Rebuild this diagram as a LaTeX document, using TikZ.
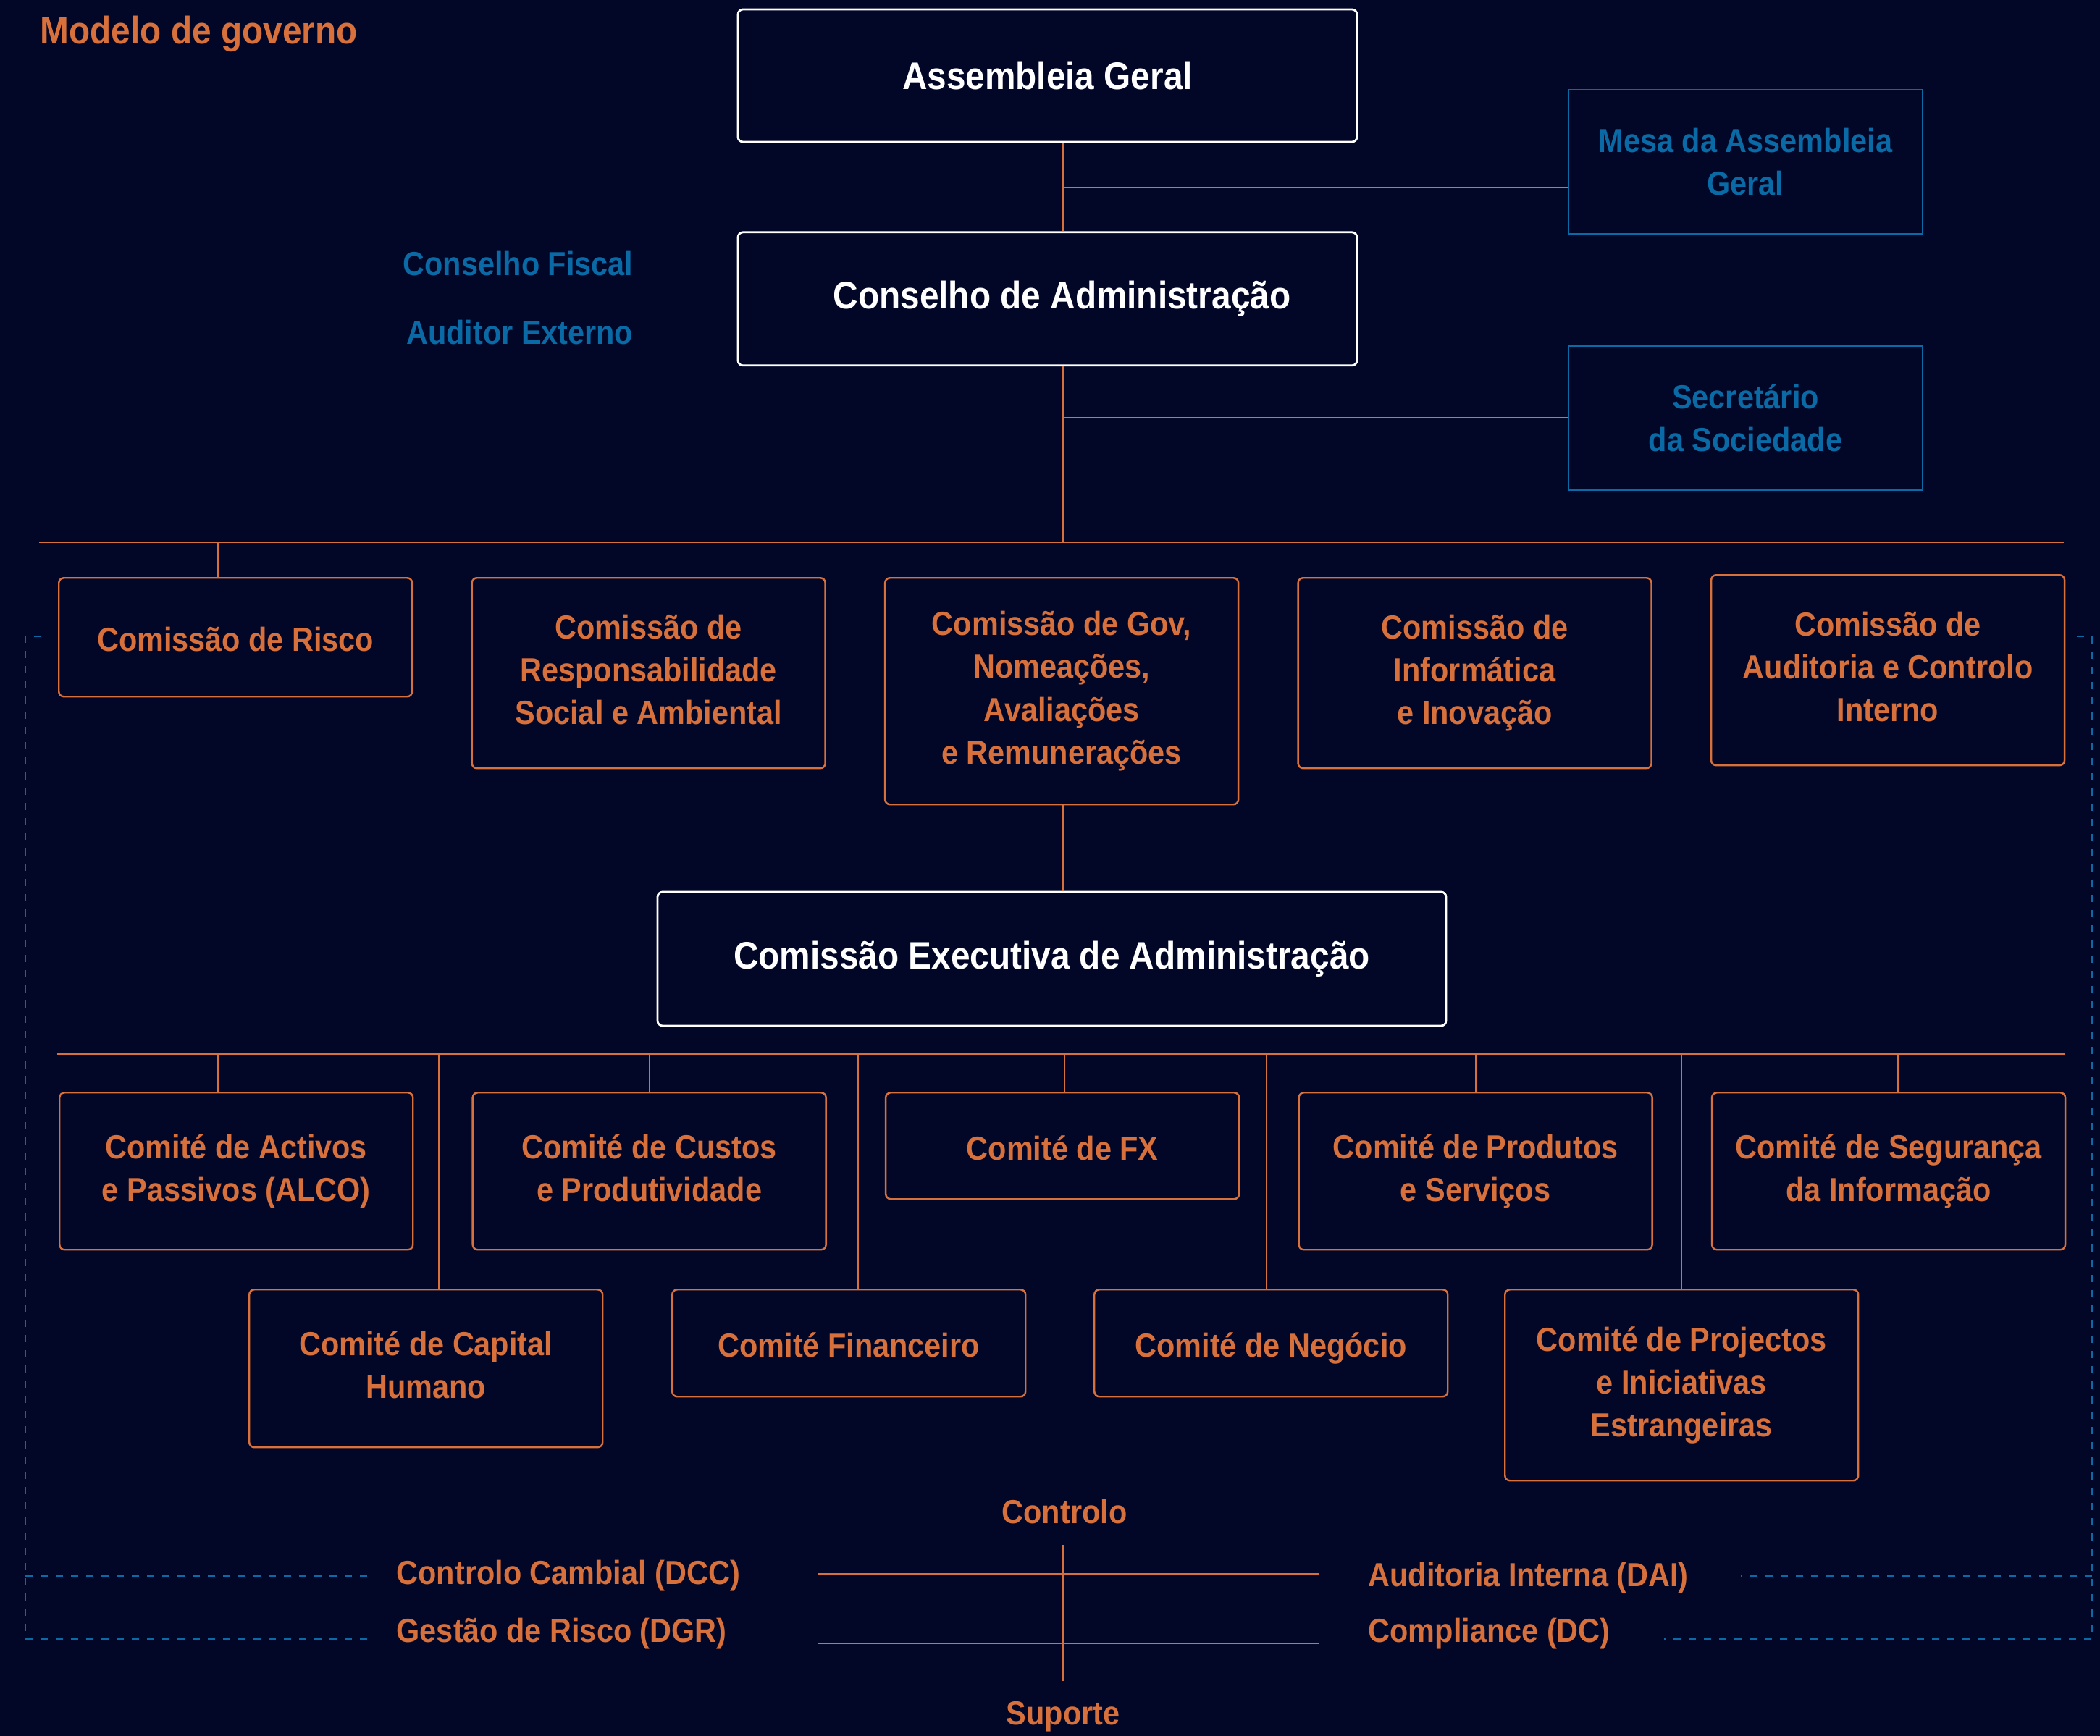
\documentclass[tikz,border=0pt]{standalone}
\usepackage{fontspec}
\setmainfont{Liberation Sans}[FakeStretch=0.9]
\usepackage{xcolor}
\usepackage{tikz}
\usetikzlibrary{positioning, calc}

\definecolor{govnavy}{RGB}{2,7,40}
\definecolor{govorange}{RGB}{216,112,59}
\definecolor{govblue}{RGB}{10,106,165}

\newcommand{\boxfont}{\fontsize{13.1}{16.8}\selectfont\bfseries}
\newcommand{\headfont}{\fontsize{15.1}{18}\selectfont\bfseries}
\newcommand{\boxstrut}{\rule[-2.8pt]{0pt}{16.76pt}}

\begin{document}
\begin{tikzpicture}[
    whitebox/.style={rectangle, draw=white, line width=0.8pt, rounded corners=2pt, text=white, font=\headfont, align=center, inner sep=0pt},
    combox/.style={rectangle, draw=govorange, line width=0.7pt, rounded corners=2pt, text=govorange, font=\boxfont, align=center, minimum width=4.88cm, inner sep=0pt, execute at begin node=\boxstrut, execute at end node=\boxstrut},
    bluebox/.style={rectangle, draw=govblue, line width=0.7pt, text=govblue, font=\boxfont, align=center, minimum width=4.89cm, minimum height=1.99cm, inner sep=0pt},
    orangetext/.style={text=govorange, font=\boxfont, inner sep=0pt},
    bluetext/.style={text=govblue, font=\boxfont, inner sep=0pt},
    link/.style={draw=govorange, line width=0.6pt},
    dashlink/.style={draw=govblue, line width=0.8pt, dash pattern=on 0.1cm off 0.11cm}
]
        % Background and page size
        \fill[govnavy] (0,0) rectangle (29,-23.98);
        \useasboundingbox (0,0) rectangle (29,-23.98);

        \node (title) [anchor=west, text=govorange, font=\headfont, inner sep=0pt] at (0.55,-0.47) {Modelo de governo};

        % Top of the structure
        \node (ag) [whitebox, minimum width=8.55cm, minimum height=1.83cm] at (14.465,-1.045) {Assembleia Geral};
        \node (ca) [whitebox, minimum width=8.55cm, minimum height=1.84cm, below=1.22cm of ag] {\hspace*{0.4cm}Conselho de Administração};
        \node (mesa) [bluebox] at (24.105,-2.235) {Mesa da Assembleia\\Geral};
        \node (sec) [bluebox, below=1.52cm of mesa] {Secretário\\da Sociedade};
        \node (fiscal) [bluetext, anchor=east] at (8.75,-3.64) {Conselho Fiscal};
        \node (auditor) [bluetext, anchor=east] at (8.75,-4.59) {Auditor Externo};

        % Junctions
        \coordinate (spine) at (14.68,0);
        \coordinate (mesajoin) at (14.68,-2.59);
        \coordinate (secjoin) at (14.68,-5.77);
        \coordinate (bus1w) at (0.54,-7.49);
        \coordinate (bus1e) at (28.50,-7.49);
        \coordinate (bus2w) at (0.79,-14.56);
        \coordinate (bus2e) at (28.51,-14.56);

        % Comissoes
        \node (risco) [combox, minimum height=1.64cm, anchor=north west] at (0.80,-7.97) {Comissão de Risco};
        \node (resp) [combox, minimum height=2.63cm, right=0.80cm of risco.north east, anchor=north west] {Comissão de\\Responsabilidade\\Social e Ambiental};
        \node (gov) [combox, minimum height=3.13cm, right=0.80cm of resp.north east, anchor=north west] {Comissão de Gov,\\Nomeações,\\Avaliações\\e Remunerações};
        \node (info) [combox, minimum height=2.63cm, right=0.80cm of gov.north east, anchor=north west] {Comissão de\\Informática\\e Inovação};
        \node (audit) [combox, minimum height=2.63cm, right=0.80cm of info.north east, anchor=north west, yshift=0.04cm] {Comissão de\\Auditoria e Controlo\\Interno};

        \node (cea) [whitebox, minimum width=10.89cm, minimum height=1.85cm] at (14.525,-13.245) {Comissão Executiva de Administração};

        % Comites (first row)
        \node (alco) [combox, minimum height=2.17cm, anchor=north west] at (0.81,-15.08) {Comité de Activos\\e Passivos (ALCO)};
        \node (custos) [combox, minimum height=2.17cm, right=0.80cm of alco.north east, anchor=north west] {Comité de Custos\\e Produtividade};
        \node (fx) [combox, minimum height=1.47cm, right=0.80cm of custos.north east, anchor=north west] {Comité de FX};
        \node (prod) [combox, minimum height=2.17cm, right=0.80cm of fx.north east, anchor=north west] {Comité de Produtos\\e Serviços};
        \node (seg) [combox, minimum height=2.17cm, right=0.80cm of prod.north east, anchor=north west] {Comité de Segurança\\da Informação};

        % Comites (second row)
        \node (capital) [combox, minimum height=2.18cm, anchor=north west] at (3.43,-17.80) {Comité de Capital\\Humano};
        \node (fin) [combox, minimum height=1.48cm, anchor=north west] at (9.27,-17.80) {Comité Financeiro};
        \node (neg) [combox, minimum height=1.48cm, anchor=north west] at (15.10,-17.80) {Comité de Negócio};
        \node (proj) [combox, minimum height=2.64cm, anchor=north west] at (20.77,-17.80) {Comité de Projectos\\e Iniciativas\\Estrangeiras};

        % Control and support functions
        \node (controlo) [orangetext] at (14.70,-20.88) {Controlo};
        \node (suporte) [orangetext] at (14.68,-23.71) {Suporte};
        \node (dcc) [orangetext, anchor=west] at (5.47,-21.77) {Controlo Cambial (DCC)};
        \node (dgr) [orangetext, anchor=west] at (5.47,-22.57) {Gestão de Risco (DGR)};
        \node (dai) [orangetext, anchor=west] at (18.89,-21.80) {Auditoria Interna (DAI)};
        \node (dc) [orangetext, anchor=west] at (18.89,-22.57) {Compliance (DC)};
        \coordinate (crosstop) at (14.68,-21.34);
        \coordinate (crossbot) at (14.68,-23.22);
        \coordinate (crossw1) at (11.30,-21.74);
        \coordinate (crosse1) at (18.22,-21.74);
        \coordinate (crossw2) at (11.30,-22.70);
        \coordinate (crosse2) at (18.22,-22.70);

        % Links
        \draw[link] (ag.south -| spine) -- (ca.north -| spine);
        \draw[link] (mesajoin) -- (mesajoin -| mesa.west);
        \draw[link] (ca.south -| spine) -- (bus1w -| spine);
        \draw[link] (secjoin) -- (secjoin -| sec.west);
        \draw[link] (bus1w) -- (bus1e);
        \draw[link] ([xshift=-0.24cm]risco.north) -- ([xshift=-0.24cm]risco.north |- bus1w);
        \draw[link] (gov.south -| spine) -- (cea.north -| spine);
        \draw[link] (bus2w) -- (bus2e);
        \foreach \n/\dx in {alco/-0.25, custos/0, fx/0.03, prod/0, seg/0.13, capital/0.18, fin/0.13, neg/-0.06, proj/0}
            \draw[link] ([xshift=\dx cm]\n.north) -- ([xshift=\dx cm]\n.north |- bus2w);
        \draw[link] (crosstop) -- (crossbot);
        \draw[link] (crossw1) -- (crosse1);
        \draw[link] (crossw2) -- (crosse2);

        % Dashed frame
        \coordinate (dashl) at (0.35,-8.79);
        \coordinate (dashr) at (28.89,-8.79);
        \draw[dashlink] ([xshift=0.22cm]dashl) -- (dashl) |- ([xshift=-0.38cm,yshift=-0.07cm]dgr.west);
        \draw[dashlink] (dashl |- dcc.west) -- ([xshift=-0.38cm]dcc.west);
        \draw[dashlink] ([xshift=-0.21cm]dashr) -- (dashr) |- ([xshift=4.09cm,yshift=-0.07cm]dc.west);
        \draw[dashlink] (dashr |- dcc.west) -- ([xshift=5.15cm,yshift=0.03cm]dai.west);
\end{tikzpicture}
\end{document}
